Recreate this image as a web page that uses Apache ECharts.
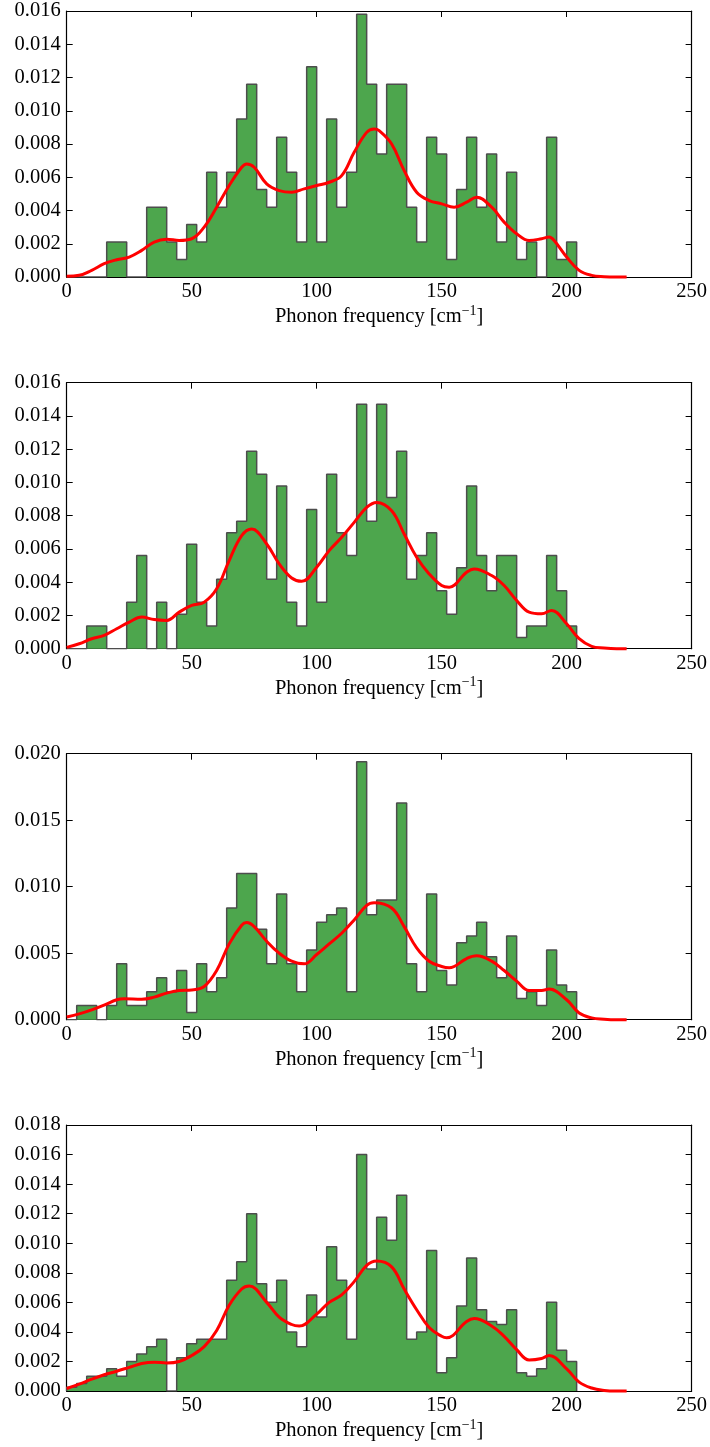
<!DOCTYPE html>
<html>
<head>
<meta charset="utf-8">
<script src="https://cdn.jsdelivr.net/npm/echarts@6/dist/echarts.min.js"></script>
<style>
html,body{margin:0;padding:0;background:#fff;}
#chart{width:710px;height:1447px;}
</style>
</head>
<body>
<div id="chart"></div>
<script>
// ---------- DATA ----------
const BIN_WIDTH = 4;            // histogram bins: [0,4), [4,8), ... [200,204)
const X_TICKS = [0, 50, 100, 150, 200, 250];
const X_LABEL = 'Phonon frequency [cm';
const X_LABEL_SUP = '\u22121';

const hist1 = [0,0,0,0,0.0021,0.0021,0,0,0.0042,0.0042,0.0021,0.00105,0.00316,0.0021,0.0063,0.0042,0.0063,0.0095,0.0116,0.00527,0.0042,0.0084,0.0063,0.0021,0.01265,0.0021,0.0095,0.0042,0.0063,0.0158,0.0116,0.0074,0.0116,0.0116,0.0042,0.0021,0.0084,0.0074,0.00105,0.00527,0.0084,0.0042,0.0074,0.0021,0.0063,0.00105,0.0021,0,0.0084,0.00105,0.0021];
const hist2 = [0,0,0.00136,0.00136,0,0,0.00279,0.0056,0,0.00279,0,0.00207,0.00628,0.00279,0.00136,0.00417,0.00698,0.00766,0.01188,0.0105,0.00417,0.00979,0.00279,0.00136,0.00838,0.00279,0.0105,0.00698,0.0056,0.0147,0.00766,0.0147,0.0091,0.01188,0.00417,0.0056,0.00698,0.00349,0.00207,0.00487,0.00979,0.0056,0.00349,0.0056,0.0056,0.00068,0.00136,0.00136,0.0056,0.00349,0.00136];
const hist3 = [0,0.00107,0.00107,0,0.00107,0.0042,0.00107,0.00107,0.0021,0.00315,0.0021,0.0037,0.00054,0.0042,0.0021,0.00315,0.0084,0.011,0.011,0.0068,0.0042,0.00945,0.0042,0.0021,0.00525,0.00733,0.0079,0.0084,0.0021,0.0194,0.0079,0.009,0.009,0.0163,0.0042,0.0021,0.00945,0.0037,0.0026,0.00578,0.0063,0.00733,0.00473,0.00315,0.0063,0.0016,0.0021,0.00107,0.00525,0.0026,0.0021];
const hist4 = [0.00025,0.0005,0.001,0.001,0.0015,0.001,0.002,0.0025,0.003,0.0035,0,0.00225,0.0032,0.0035,0.0035,0.0035,0.0075,0.00875,0.012,0.00725,0.006,0.0075,0.004,0.003,0.0065,0.005,0.00976,0.0075,0.0035,0.016,0.00825,0.01175,0.0102,0.01324,0.0035,0.004,0.0095,0.00123,0.00225,0.00575,0.009,0.0055,0.0047,0.0045,0.0055,0.00123,0.001,0.0015,0.006,0.00275,0.002];

const kde1X = [0,5,10,15,20,25,30,35,40,45,50,55,60,65,70,72,75,80,85,90,95,100,105,110,115,120,123,125,130,135,140,145,150,155,160,164,170,175,180,185,190,193,195,200,205,210,215,220,224];
const kde1Y = [0.00004,0.0001,0.0004,0.0008,0.00104,0.0012,0.0016,0.0021,0.00227,0.0022,0.0023,0.003,0.0042,0.0055,0.0066,0.0068,0.0066,0.0056,0.0052,0.0051,0.0053,0.0055,0.0057,0.0061,0.0075,0.0087,0.0089,0.0088,0.0080,0.0064,0.0051,0.0046,0.0044,0.0042,0.0045,0.0048,0.0042,0.0033,0.0026,0.0022,0.0023,0.0024,0.0022,0.0012,0.0004,0.0001,0.00002,0,0];

const kde2X = [0,5,10,15,20,25,30,35,40,45,50,55,60,65,70,74,80,85,90,94,100,105,110,115,120,124,130,135,140,145,150,153,160,163,170,175,180,185,190,194,200,205,210,215,220,224];
const kde2Y = [0.00008,0.0003,0.0006,0.0008,0.0012,0.0016,0.0019,0.00175,0.0017,0.0022,0.0026,0.0028,0.0036,0.0053,0.0068,0.0072,0.0063,0.0051,0.00425,0.00405,0.0049,0.0059,0.0067,0.0076,0.0085,0.0088,0.0083,0.0069,0.0055,0.0045,0.0038,0.0037,0.0046,0.0048,0.0044,0.0038,0.0029,0.0022,0.0021,0.0023,0.0015,0.0006,0.00014,0.00004,0,0];

const kde3X = [0,5,10,15,20,23,30,35,40,45,50,55,60,65,70,72,75,80,85,90,95,100,105,110,115,120,123,130,135,140,145,150,153,160,164,170,175,180,185,190,193,200,205,210,215,220,224];
const kde3Y = [0.0002,0.00044,0.00074,0.0011,0.0015,0.00157,0.00154,0.0017,0.002,0.0022,0.00224,0.0025,0.0037,0.0057,0.0071,0.0073,0.007,0.0059,0.005,0.0044,0.0042,0.0049,0.0057,0.0065,0.0075,0.0086,0.0088,0.0084,0.0070,0.0054,0.0044,0.004,0.0039,0.0046,0.0048,0.0044,0.0037,0.0029,0.0022,0.0022,0.0023,0.0015,0.0005,0.00014,0.00004,0,0];

const kde4X = [0,5,10,15,20,25,30,35,40,45,50,55,60,65,70,73,80,85,90,93,100,105,110,115,120,124,130,135,140,145,150,152,160,163,170,175,180,185,190,193,200,205,210,215,220,224];
const kde4Y = [0.00017,0.00046,0.0008,0.0011,0.00134,0.0016,0.00186,0.00195,0.0019,0.002,0.0024,0.003,0.0041,0.0058,0.0069,0.0071,0.006,0.005,0.0045,0.0044,0.0052,0.006,0.0065,0.0074,0.0085,0.0088,0.0084,0.0069,0.0055,0.0043,0.0037,0.0036,0.0047,0.0049,0.0044,0.0037,0.0028,0.0021,0.0022,0.0024,0.0015,0.0006,0.0002,0.00004,0,0];

const Y_MAX = [0.016, 0.016, 0.020, 0.018];
const Y_STEP = [0.002, 0.002, 0.005, 0.002];

const panels = [
  {hist: hist1, kx: kde1X, ky: kde1Y},
  {hist: hist2, kx: kde2X, ky: kde2Y},
  {hist: hist3, kx: kde3X, ky: kde3Y},
  {hist: hist4, kx: kde4X, ky: kde4Y}
];

// ---------- STYLE / LAYOUT ----------
const FONT = '"Liberation Serif", "DejaVu Serif", serif';
const FS = 20.5;
const GRID_TOP = [11, 382.7, 753.7, 1125];
const GRID_H = 266;
const LEFT = 66.7, WIDTH = 625;

function stepData(hist) {
  const d = [[0, 0]];
  hist.forEach((v, i) => d.push([i * BIN_WIDTH, v]));
  d.push([hist.length * BIN_WIDTH, hist[hist.length - 1]]);
  d.push([hist.length * BIN_WIDTH, 0]);
  return d;
}

const grid = [], xAxis = [], yAxis = [], series = [];
const tickStyle = {inside: true, length: 6, lineStyle: {color: '#000', width: 1}};
const lineStyle = {show: true, onZero: false, lineStyle: {color: '#000', width: 1.2}};

panels.forEach((p, i) => {
  grid.push({left: LEFT, top: GRID_TOP[i], width: WIDTH, height: GRID_H});
  xAxis.push({
    gridIndex: i, type: 'value', min: X_TICKS[0], max: X_TICKS[X_TICKS.length - 1], interval: X_TICKS[1] - X_TICKS[0],
    position: 'bottom', axisLine: lineStyle, axisTick: tickStyle, splitLine: {show: false},
    axisLabel: {color: '#000', fontFamily: FONT, fontSize: FS, margin: 4},
    name: '{n|' + X_LABEL + '}{s|' + X_LABEL_SUP + '}{n|]}', nameLocation: 'middle', nameGap: 27,
    nameTextStyle: {rich: {
      n: {fontFamily: FONT, fontSize: FS, color: '#000', lineHeight: 25},
      s: {fontFamily: FONT, fontSize: 14, color: '#000', verticalAlign: 'top', lineHeight: 14}
    }}
  });
  xAxis.push({
    gridIndex: i, type: 'value', min: X_TICKS[0], max: X_TICKS[X_TICKS.length - 1], interval: X_TICKS[1] - X_TICKS[0],
    position: 'top', axisLine: lineStyle, axisTick: tickStyle, splitLine: {show: false}, axisLabel: {show: false}
  });
  yAxis.push({
    gridIndex: i, type: 'value', min: 0, max: Y_MAX[i], interval: Y_STEP[i], position: 'left',
    axisLine: lineStyle, axisTick: tickStyle, splitLine: {show: false},
    axisLabel: {color: '#000', fontFamily: FONT, fontSize: FS, margin: 6, formatter: v => v.toFixed(3)}
  });
  yAxis.push({
    gridIndex: i, type: 'value', min: 0, max: Y_MAX[i], interval: Y_STEP[i], position: 'right',
    axisLine: lineStyle, axisTick: tickStyle, splitLine: {show: false}, axisLabel: {show: false}
  });
  series.push({
    type: 'line', xAxisIndex: 2 * i, yAxisIndex: 2 * i, data: stepData(p.hist), step: 'end',
    symbol: 'none', silent: true, z: 2, clip: true,
    lineStyle: {color: '#4d4d4d', width: 1.5},
    areaStyle: {color: '#4da64d', opacity: 1}
  });
  series.push({
    type: 'line', xAxisIndex: 2 * i, yAxisIndex: 2 * i, data: p.kx.map((x, j) => [x, p.ky[j]]),
    smooth: 0.4, symbol: 'none', silent: true, z: 3, clip: false,
    lineStyle: {color: '#ff0000', width: 3}
  });
});

const chart = echarts.init(document.getElementById('chart'), null, {renderer: 'canvas'});
chart.setOption({animation: false, backgroundColor: '#fff', grid, xAxis, yAxis, series});
</script>
</body>
</html>
